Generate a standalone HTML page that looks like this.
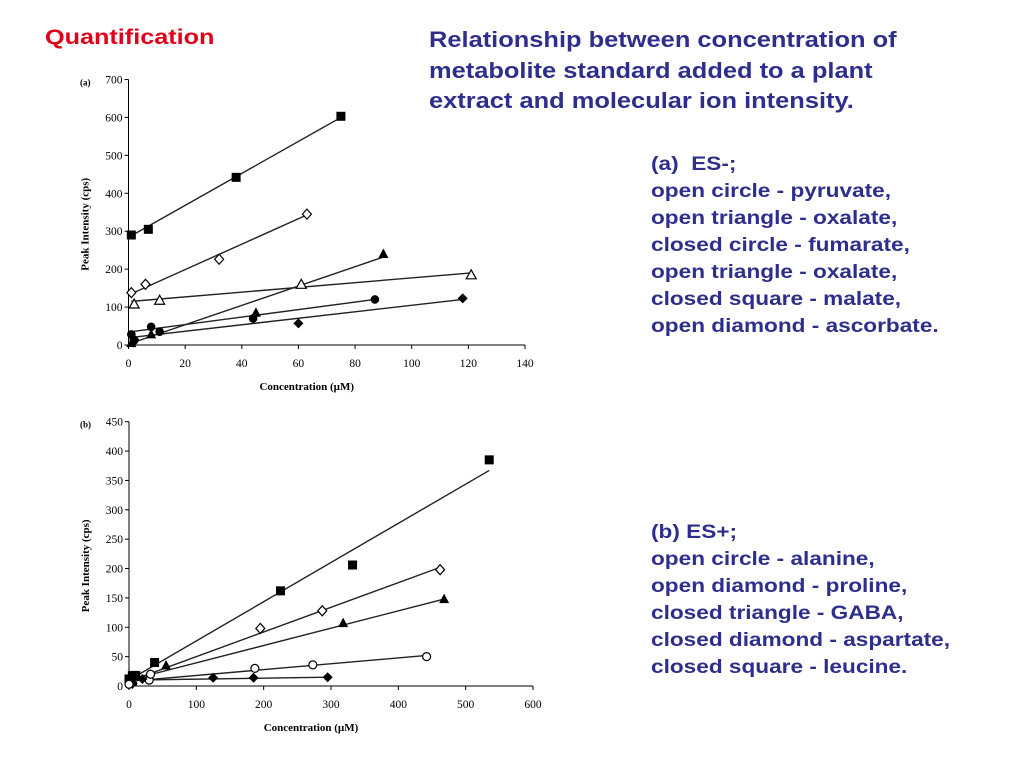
<!DOCTYPE html>
<html><head><meta charset="utf-8">
<style>
html,body{margin:0;padding:0;background:#fff;}
body{width:1024px;height:768px;position:relative;overflow:hidden;font-family:"Liberation Sans",sans-serif;}
.t{position:absolute;font-weight:bold;white-space:nowrap;transform-origin:0 0;}
#quant{left:45px;top:26px;font-size:21px;color:#e0001a;transform:scaleX(1.2);}
#title{left:429px;top:25px;font-size:22.5px;line-height:30.5px;color:#2e2e8c;transform:scaleX(1.13);}
.leg{position:absolute;left:651px;font-size:19px;line-height:27px;color:#2e2e8c;font-weight:bold;white-space:nowrap;transform-origin:0 0;transform:scaleX(1.19);}
svg{position:absolute;left:0;top:0;}
svg text{font-family:"Liberation Serif",serif;fill:#000;}
</style></head><body>
<div class="t" id="quant">Quantification</div>
<div class="t" id="title">Relationship between concentration of<br>metabolite standard added to a plant<br>extract and molecular ion intensity.</div>
<div class="leg" style="top:151px">(a)&nbsp; ES-;<br>open circle - pyruvate,<br>open triangle - oxalate,<br>closed circle - fumarate,<br>open triangle - oxalate,<br>closed square - malate,<br>open diamond - ascorbate.</div>
<div class="leg" style="top:519px">(b) ES+;<br>open circle - alanine,<br>open diamond - proline,<br>closed triangle - GABA,<br>closed diamond - aspartate,<br>closed square - leucine.</div>
<svg id="svg" width="1024" height="768"></svg>
<script>
// Chart A data
const aXTicks=[0,20,40,60,80,100,120,140];
const aYTicks=[0,100,200,300,400,500,600,700];
const aSquareX=[1,7,38,75]; const aSquareY=[290,305,442,603];
const aDiamondX=[1,6,32,63]; const aDiamondY=[138,160,226,345];
const aOTriX=[2,11,61,121]; const aOTriY=[108,118,160,185];
const aCTriX=[1,8,45,90]; const aCTriY=[5,28,85,240];
const aCircX=[1,2,8,11,44,87]; const aCircY=[28,12,48,35,70,120];
const aCDiaX=[2,60,118]; const aCDiaY=[15,57,123];
const aLines=[[1,288,75,600],[1,135,63,343],[1,115,121,190],[1,5,90,232],[1,35,87,120],[1,20,118,120]];
// Chart B data
const bXTicks=[0,100,200,300,400,500,600];
const bYTicks=[0,50,100,150,200,250,300,350,400,450];
const bSquareX=[0,5,10,38,225,332,535]; const bSquareY=[12,18,18,40,162,206,385];
const bDiamondX=[5,195,287,462]; const bDiamondY=[5,98,128,198];
const bTriX=[5,55,318,468]; const bTriY=[8,35,107,148];
const bOCircX=[0,30,32,187,273,442]; const bOCircY=[3,10,20,30,36,50];
const bCDiaX=[20,125,185,295]; const bCDiaY=[12,14,14,15];
const bLines=[[0,10,535,367],[0,8,462,202],[0,10,468,148],[0,8,442,52],[0,10,295,15]];

const NS='http://www.w3.org/2000/svg';
const svg=document.getElementById('svg');
function el(t,a,p){const e=document.createElementNS(NS,t);for(const k in a)e.setAttribute(k,a[k]);(p||svg).appendChild(e);return e;}
function mk(x0,x1,xmax,y0,y1,ymax){return {x:v=>x0+(x1-x0)*v/xmax,y:v=>y0-(y0-y1)*v/ymax,x0,x1,y0,y1};}
function axes(s,xt,yt,name,lab){
  const g=el('g',{});
  
  
  el('line',{x1:s.x0,y1:s.y0,x2:s.x1,y2:s.y0,stroke:'#000','stroke-width':1},g);
  el('line',{x1:s.x0,y1:s.y0,x2:s.x0,y2:s.y1,stroke:'#000','stroke-width':1},g);
  xt.forEach(v=>{el('line',{x1:s.x(v),y1:s.y0,x2:s.x(v),y2:s.y0+4,stroke:'#000'},g);
    const t=el('text',{x:s.x(v),y:s.y0+22,'text-anchor':'middle','font-size':11.5},g);t.textContent=v;
    });
  yt.forEach(v=>{el('line',{x1:s.x0-4,y1:s.y(v),x2:s.x0,y2:s.y(v),stroke:'#000'},g);
    const t=el('text',{x:s.x0-6,y:s.y(v)+4,'text-anchor':'end','font-size':11.5},g);t.textContent=v;
    });
  const xl=el('text',{x:(s.x0+s.x1)/2-20,y:s.y0+45,'text-anchor':'middle','font-size':11,'font-weight':'bold'},g);xl.textContent='Concentration (µM)';
  
  const cy=(s.y0+s.y1)/2+12;
  const yl=el('text',{x:0,y:0,transform:`translate(${s.x0-40},${cy}) rotate(-90)`,'text-anchor':'middle','font-size':11,'font-weight':'bold'},g);yl.textContent='Peak Intensity (cps)';
  
  const pl=el('text',{x:80,y:s.y1+6,'font-size':9,'font-weight':'bold'},g);pl.textContent=lab;
  
}
function lines(s,L,name){L.forEach(l=>{const e=el('line',{x1:s.x(l[0]),y1:s.y(l[1]),x2:s.x(l[2]),y2:s.y(l[3]),stroke:'#222','stroke-width':1.4});
  });}
function marker(type,cx,cy){
  let e;const st={stroke:'#000','stroke-width':1.2};
  if(type==='sq')e=el('rect',{x:cx-4.5,y:cy-4.5,width:9,height:9,fill:'#000'});
  else if(type==='od')e=el('polygon',Object.assign({points:`${cx},${cy-5} ${cx+4.5},${cy} ${cx},${cy+5} ${cx-4.5},${cy}`,fill:'#fff'},st));
  else if(type==='cd')e=el('polygon',{points:`${cx},${cy-5} ${cx+5},${cy} ${cx},${cy+5} ${cx-5},${cy}`,fill:'#000'});
  else if(type==='ot')e=el('polygon',Object.assign({points:`${cx},${cy-5} ${cx+5},${cy+4} ${cx-5},${cy+4}`,fill:'#fff'},st));
  else if(type==='ct')e=el('polygon',{points:`${cx},${cy-5.5} ${cx+5},${cy+4} ${cx-5},${cy+4}`,fill:'#000'});
  else if(type==='cc')e=el('circle',{cx,cy,r:4.3,fill:'#000'});
  else e=el('circle',Object.assign({cx,cy,r:4,fill:'#fff'},st));
  return e;
}
function series(s,X,Y,type,name){X.forEach((v,i)=>{const e=marker(type,s.x(v),s.y(Y[i]));
  });}

const A=mk(128.5,525,140,345,79.5,700);
axes(A,aXTicks,aYTicks,'chart-a','(a)');
lines(A,aLines,'chart-a');
series(A,aSquareX,aSquareY,'sq','malate');
series(A,aDiamondX,aDiamondY,'od','ascorbate');
series(A,aOTriX,aOTriY,'ot','oxalate');
series(A,aCTriX,aCTriY,'ct','closed-triangle');
series(A,aCircX,aCircY,'cc','fumarate');
series(A,aCDiaX,aCDiaY,'cd','closed-diamond');

const B=mk(129,533,600,686,421.7,450);
axes(B,bXTicks,bYTicks,'chart-b','(b)');
lines(B,bLines,'chart-b');
series(B,bSquareX,bSquareY,'sq','leucine');
series(B,bDiamondX,bDiamondY,'od','proline');
series(B,bTriX,bTriY,'ct','gaba');
series(B,bOCircX,bOCircY,'oc','alanine');
series(B,bCDiaX,bCDiaY,'cd','aspartate');
</script>
</body></html>
